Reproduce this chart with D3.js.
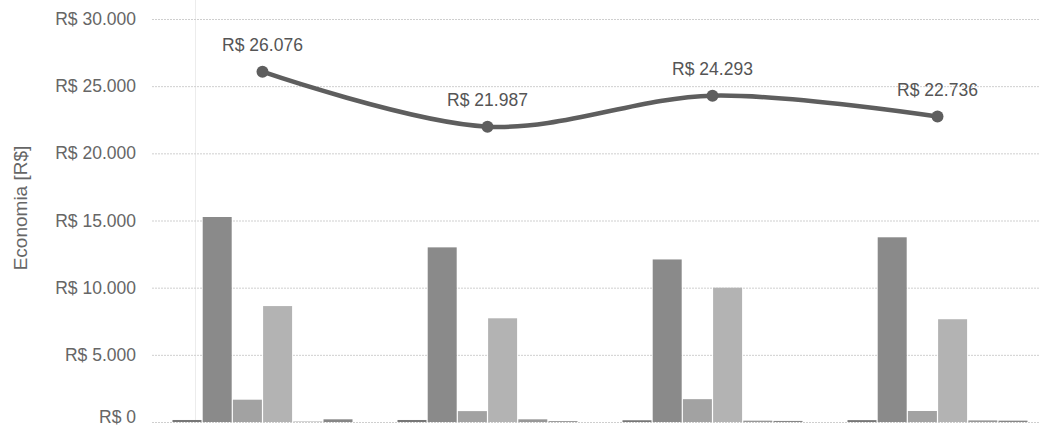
<!DOCTYPE html>
<html>
<head>
<meta charset="utf-8">
<script src="https://cdn.jsdelivr.net/npm/d3@7"></script>
<style>
  html, body { margin: 0; padding: 0; background: #fff; }
  svg { display: block; font-family: "Liberation Sans", Arial, sans-serif; }
</style>
</head>
<body>
<svg id="chart" width="1039" height="426"></svg>
<script>
const categories = ["G1", "G2", "G3", "G4"];
const seriesNames = ["S1", "S2", "S3", "S4", "S5", "S6"];
const s1 = [150, 150, 130, 140];
const s2 = [15260, 13000, 12100, 13750];
const s3 = [1660, 810, 1700, 820];
const s4 = [8630, 7720, 10000, 7650];
const s5 = [30, 200, 100, 120];
const s6 = [200, 60, 80, 100];
const totals = [26076, 21987, 24293, 22736];
const totalLabels = ["R$ 26.076", "R$ 21.987", "R$ 24.293", "R$ 22.736"];
const yTicks = [0, 5000, 10000, 15000, 20000, 25000, 30000];
const yTickLabels = ["R$ 0", "R$ 5.000", "R$ 10.000", "R$ 15.000", "R$ 20.000", "R$ 25.000", "R$ 30.000"];
const yTitle = "Economia [R$]";

const seriesValues = [s1, s2, s3, s4, s5, s6];
const seriesColors = ["#777777", "#8a8a8a", "#a2a2a2", "#b3b3b3", "#989898", "#878787"];

const svg = d3.select("#chart");
const plotLeft = 150, plotRight = 1050, plotTop = 19, plotBottom = 422;

const y = d3.scaleLinear().domain([0, 30000]).range([plotBottom, plotTop]);
const x0 = d3.scaleBand().domain(categories).range([plotLeft, plotRight]).paddingInner(0.2).paddingOuter(0.1);
const x1 = d3.scaleBand().domain(seriesNames).range([0, x0.bandwidth()]).paddingInner(0.04);

// faint vertical line (axis)
svg.append("line")
  .attr("x1", 195.5).attr("x2", 195.5).attr("y1", 0).attr("y2", plotBottom)
  .attr("stroke", "#ececec").attr("stroke-width", 1);

// gridlines
const yAxis = d3.axisLeft(y).tickValues(yTicks).tickSize(-(1039 - 152)).tickFormat((d, i) => yTickLabels[i]);
const gAxis = svg.append("g").attr("transform", "translate(152,0)").call(yAxis);
gAxis.select(".domain").remove();
gAxis.selectAll(".tick line")
  .attr("stroke", "#cfcfcf").attr("stroke-dasharray", "2,1");
gAxis.selectAll(".tick text")
  .attr("x", -16)
  .attr("dy", d => d === 0 ? "0.05em" : "0.32em")
  .attr("fill", "#666")
  .style("font-size", "17.5px")
  .style("font-family", "'Liberation Sans', Arial, sans-serif");

// bars
const groups = svg.append("g").selectAll("g")
  .data(categories)
  .join("g")
  .attr("transform", d => `translate(${x0(d)},0)`);

groups.selectAll("rect")
  .data((c, ci) => seriesNames.map((s, si) => ({ s, si, v: seriesValues[si][ci] })))
  .join("rect")
  .attr("x", d => x1(d.s))
  .attr("width", x1.bandwidth())
  .attr("y", d => y(d.v))
  .attr("height", d => y(0) - y(d.v))
  .attr("fill", d => seriesColors[d.si]);

// line
const cx = c => x0(c) + x0.bandwidth() / 2;
const line = d3.line()
  .x((d, i) => cx(categories[i]))
  .y(d => y(d))
  .curve(d3.curveCatmullRom.alpha(0.5));

svg.append("path")
  .datum(totals)
  .attr("d", line)
  .attr("fill", "none")
  .attr("stroke", "#5e5e5e")
  .attr("stroke-width", 4.5);

svg.append("g").selectAll("circle")
  .data(totals)
  .join("circle")
  .attr("cx", (d, i) => cx(categories[i]))
  .attr("cy", d => y(d))
  .attr("r", 6)
  .attr("fill", "#5e5e5e");

svg.append("g").selectAll("text")
  .data(totals)
  .join("text")
  .attr("x", (d, i) => cx(categories[i]))
  .attr("y", d => y(d) - 21)
  .attr("text-anchor", "middle")
  .attr("fill", "#555")
  .style("font-size", "17.5px")
  .text((d, i) => totalLabels[i]);

// y title
svg.append("text")
  .attr("transform", "translate(27,208) rotate(-90)")
  .attr("text-anchor", "middle")
  .attr("fill", "#666")
  .style("font-size", "19px")
  .text(yTitle);
</script>
</body>
</html>
